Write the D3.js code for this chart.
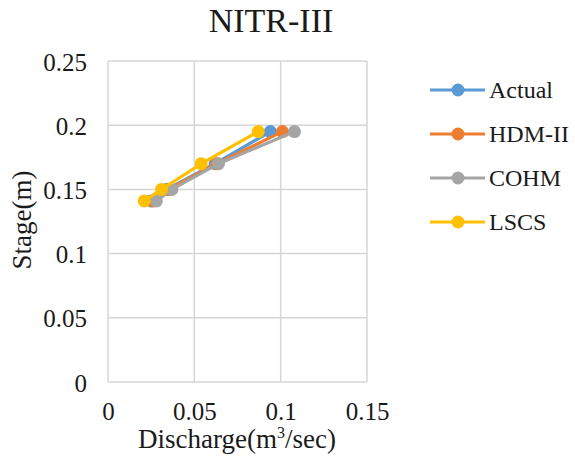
<!DOCTYPE html>
<html>
<head>
<meta charset="utf-8">
<script src="https://cdn.jsdelivr.net/npm/d3@7"></script>
</head>
<body style="margin:0;background:#fff">
<svg id="fig" width="575" height="468" style="display:block"></svg>
<script>
// Stage (m) at which discharge was measured / predicted
const stage = [0.141, 0.150, 0.170, 0.195];

// Discharge (m^3/sec) for each method
const actual = [0.025, 0.034, 0.062, 0.094];
const hdm2   = [0.026, 0.035, 0.063, 0.101];
const cohm   = [0.028, 0.037, 0.064, 0.108];
const lscs   = [0.021, 0.031, 0.054, 0.087];

const seriesNames  = ["Actual", "HDM-II", "COHM", "LSCS"];
const seriesColors = ["#5B9BD5", "#ED7D31", "#A5A5A5", "#FFC000"];
const seriesValues = [actual, hdm2, cohm, lscs];

const xTicks = [0, 0.05, 0.1, 0.15];
const yTicks = [0, 0.05, 0.1, 0.15, 0.2, 0.25];

const FONT = "Liberation Serif";
const INK = "#1a1a1a";

const svg = d3.select("#fig");
const plot = { left: 108, right: 367, top: 61, bottom: 382 };

const x = d3.scaleLinear().domain([0, 0.15]).range([plot.left, plot.right]);
const y = d3.scaleLinear().domain([0, 0.25]).range([plot.bottom, plot.top]);

const fmt = d => d === 0 ? "0" : String(+d.toFixed(2));

// serif text helper
const serif = (sel, size) => sel.style("font-family", FONT, "important")
  .style("font-size", size + "px").attr("fill", INK);

// Gridlines
const grid = svg.append("g");
grid.selectAll("line.h").data(yTicks).join("line")
  .attr("x1", plot.left).attr("x2", plot.right)
  .attr("y1", d => y(d)).attr("y2", d => y(d))
  .attr("stroke", "#d6d6d6").attr("stroke-width", 1.5);
grid.selectAll("line.v").data(xTicks).join("line")
  .attr("y1", plot.top).attr("y2", plot.bottom)
  .attr("x1", d => x(d)).attr("x2", d => x(d))
  .attr("stroke", "#d6d6d6").attr("stroke-width", 1.5);

// Axes (labels only)
const xAxis = svg.append("g").attr("transform", `translate(0,${plot.bottom})`)
  .call(d3.axisBottom(x).tickValues(xTicks).tickFormat(fmt).tickSize(0).tickPadding(20));
const yAxis = svg.append("g").attr("transform", `translate(${plot.left},0)`)
  .call(d3.axisLeft(y).tickValues(yTicks).tickFormat(fmt).tickSize(0).tickPadding(21));
[xAxis, yAxis].forEach(a => {
  a.attr("font-family", null).attr("font-size", null);
  a.select(".domain").remove();
  serif(a.selectAll("text"), 25);
});
yAxis.selectAll("text").attr("dy", "0.36em");

// Series lines and markers
const line = d3.line().x(d => x(d[0])).y(d => y(d[1]));
seriesValues.forEach((vals, i) => {
  const pts = vals.map((v, j) => [v, stage[j]]);
  const g = svg.append("g");
  g.append("path").datum(pts).attr("d", line)
    .attr("fill", "none").attr("stroke", seriesColors[i]).attr("stroke-width", 3.2)
    .attr("stroke-linejoin", "round");
  g.selectAll("circle").data(pts).join("circle")
    .attr("cx", d => x(d[0])).attr("cy", d => y(d[1])).attr("r", 6.5)
    .attr("fill", seriesColors[i]);
});

// Title
serif(svg.append("text").attr("x", 271).attr("y", 32).attr("text-anchor", "middle"), 34)
  .text("NITR-III");

// Axis titles
const xt = serif(svg.append("text").attr("x", 237).attr("y", 448).attr("text-anchor", "middle"), 27);
xt.append("tspan").text("Discharge(m");
xt.append("tspan").attr("dy", -10).style("font-size", "16px").text("3");
xt.append("tspan").attr("dy", 10).text("/sec)");

serif(svg.append("text").attr("transform", "translate(31,220) rotate(-90)")
  .attr("text-anchor", "middle"), 27).text("Stage(m)");

// Legend
const legend = svg.append("g");
const rowsY = [90, 134, 178, 222];
seriesNames.forEach((name, i) => {
  const r = legend.append("g").attr("transform", `translate(0,${rowsY[i]})`);
  r.append("line").attr("x1", 430).attr("x2", 485).attr("y1", 0).attr("y2", 0)
    .attr("stroke", seriesColors[i]).attr("stroke-width", 3.2);
  r.append("circle").attr("cx", 458).attr("cy", 0).attr("r", 6.5).attr("fill", seriesColors[i]);
  serif(r.append("text").attr("x", 489).attr("y", 8), 24).text(name);
});
</script>
</body>
</html>
